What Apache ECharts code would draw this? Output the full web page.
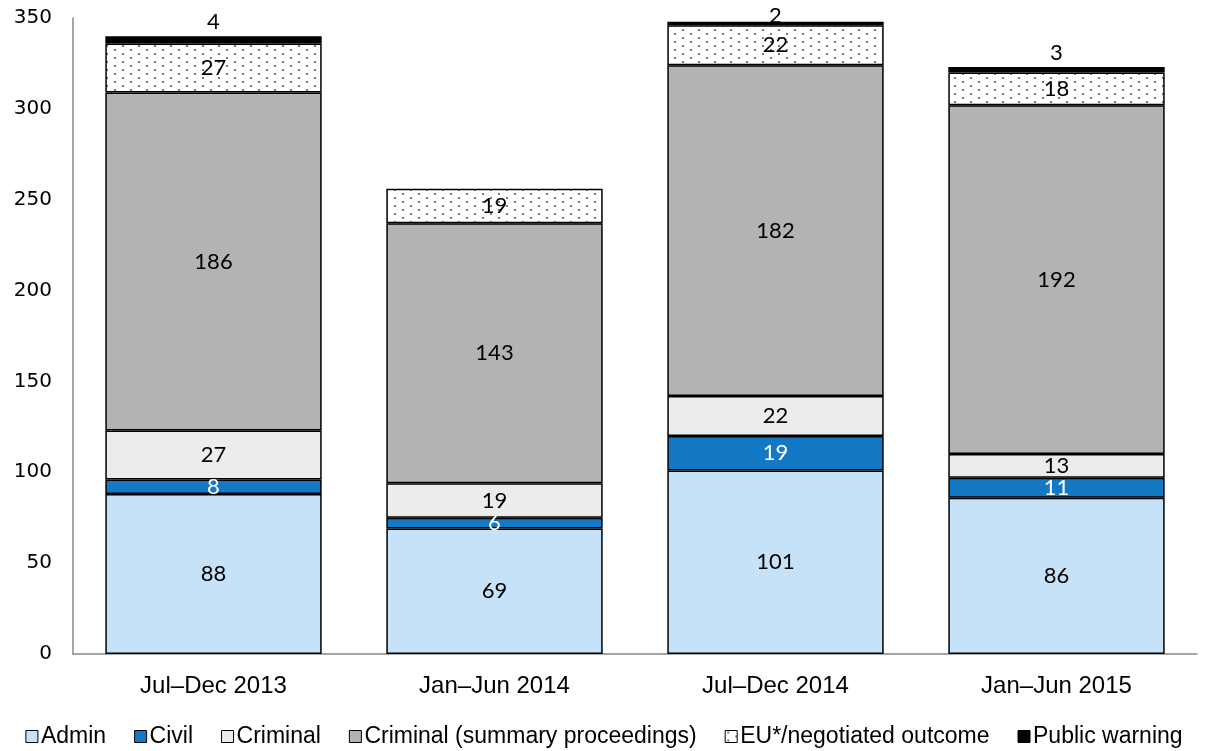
<!DOCTYPE html>
<html>
<head>
<meta charset="utf-8">
<script src="https://cdn.jsdelivr.net/npm/echarts@6/dist/echarts.min.js"></script>
<style>
html,body{margin:0;padding:0;background:#fff;}
#chart{width:1208px;height:751px;}
</style>
</head>
<body>
<div id="chart"></div>
<script>
const categories = ['Jul\u2013Dec 2013', 'Jan\u2013Jun 2014', 'Jul\u2013Dec 2014', 'Jan\u2013Jun 2015'];
const seriesNames = ['Admin', 'Civil', 'Criminal', 'Criminal (summary proceedings)', 'EU*/negotiated outcome', 'Public warning'];
const admin = [88, 69, 101, 86];
const civil = [8, 6, 19, 11];
const criminal = [27, 19, 22, 13];
const criminalSummary = [186, 143, 182, 192];
const euNegotiated = [27, 19, 22, 18];
const publicWarning = [4, null, 2, 3];
const yTicks = [0, 50, 100, 150, 200, 250, 300, 350];

// dotted pattern
const pc = document.createElement('canvas');
pc.width = 16; pc.height = 8;
const pctx = pc.getContext('2d');
pctx.fillStyle = '#ffffff';
pctx.fillRect(0, 0, 16, 8);
pctx.fillStyle = '#7a7a7a';
pctx.fillRect(2, 1, 2, 2);
pctx.fillRect(10, 5, 2, 2);

const colors = ['#c5e2f8', '#1479c4', '#ececec', '#b3b3b3', {image: pc, repeat: 'repeat'}, '#000000'];
const values = [admin, civil, criminal, criminalSummary, euNegotiated, publicWarning];
const labelColors = ['#000', '#fff', '#000', '#000', '#000', '#000'];

const labelFont = 'Lato, "Open Sans", sans-serif';
const axisFont = '"Liberation Sans", Arial, sans-serif';

const series = seriesNames.map((name, i) => {
  const isTop = i === 5;
  return {
    name: name,
    type: 'bar',
    stack: 'total',
    barCategoryGap: '23%',
    data: values[i].map((v, j) => {
      const item = {value: v};
      if (isTop && v !== null && (v + admin[j] + civil[j] + criminal[j] + criminalSummary[j] + euNegotiated[j]) > 345) {
        item.label = {offset: [0, 8]};
      }
      return item;
    }),
    itemStyle: {
      color: colors[i],
      borderColor: '#000',
      borderWidth: 1.5
    },
    label: {
      show: true,
      position: isTop ? 'top' : 'inside',
      distance: 3,
      color: labelColors[i],
      fontSize: 22,
      fontFamily: labelFont,
      formatter: p => (p.value === null || p.value === undefined) ? '' : String(p.value)
    },
    emphasis: {disabled: true},
    animation: false
  };
});

const chart = echarts.init(document.getElementById('chart'), null, {renderer: 'canvas'});
chart.setOption({
  backgroundColor: '#ffffff',
  animation: false,
  grid: {left: 73, right: 11, top: 18, bottom: 97, containLabel: false},
  legend: {
    bottom: 3,
    left: 'center',
    padding: 0,
    itemWidth: 12,
    itemHeight: 12,
    itemGap: 28,
    icon: 'rect',
    data: seriesNames,
    itemStyle: {borderColor: '#000', borderWidth: 1},
    textStyle: {fontFamily: axisFont, fontSize: 23, color: '#000', padding: [0, 0, 0, -2]}
  },
  xAxis: {
    type: 'category',
    data: categories,
    axisLine: {lineStyle: {color: '#898989', width: 1.5}},
    axisTick: {show: false},
    axisLabel: {fontFamily: axisFont, fontSize: 24, color: '#000', margin: 20}
  },
  yAxis: {
    type: 'value',
    min: yTicks[0],
    max: yTicks[yTicks.length - 1],
    interval: 50,
    axisLine: {show: true, lineStyle: {color: '#898989', width: 1.5}},
    axisTick: {show: false},
    splitLine: {show: false},
    axisLabel: {fontFamily: '"DejaVu Sans", sans-serif', fontSize: 20, color: '#000', margin: 21}
  },
  series: series
});
</script>
</body>
</html>
